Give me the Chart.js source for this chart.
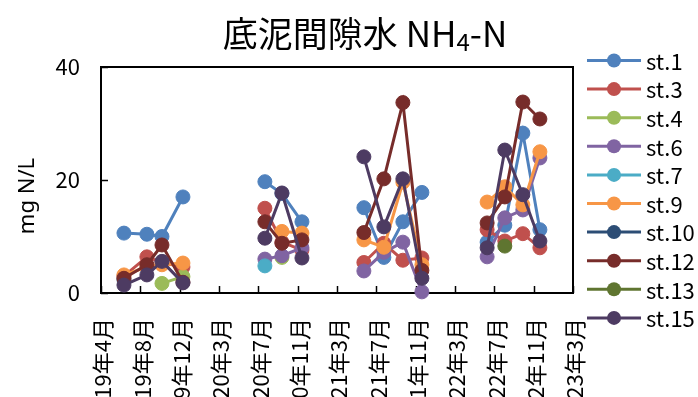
<!DOCTYPE html>
<html>
<head>
<meta charset="utf-8">
<script src="https://cdn.jsdelivr.net/npm/chart.js@4/dist/chart.umd.min.js"></script>
<style>
  html, body { margin: 0; padding: 0; background: #ffffff; }
  #wrap { width: 698px; height: 397px; }
</style>
</head>
<body>
<div id="wrap"><canvas id="chart" width="698" height="397"></canvas></div>
<script>
// ---- Text ----
const titleMain = '底泥間隙水 NH';
const titleSub = '4';
const titleTail = '-N';
const yAxisTitle = 'mg N/L';

// ---- Time axis: day 0 is axisStart, a tick every 120 days ----
const axisStart = '2019-04-05';
const tickStepDays = 120;
const tickLabels = ['19年4月', '19年8月', '19年12月', '20年3月', '20年7月', '20年11月',
                    '21年3月', '21年7月', '21年11月', '22年3月', '22年7月', '22年11月', '23年3月'];

// ---- Survey dates ----
const sampleDates = [
  '2019-06-14', '2019-08-23', '2019-10-08', '2019-12-11',
  '2020-08-17', '2020-10-08', '2020-12-08',
  '2021-06-15', '2021-08-15', '2021-10-12', '2021-12-09',
  '2022-06-26', '2022-08-19', '2022-10-13', '2022-12-04'
];

// ---- NH4-N (mg N/L) per station, one value per survey date ----
const stations = ['st.1', 'st.3', 'st.4', 'st.6', 'st.7', 'st.9', 'st.10', 'st.12', 'st.13', 'st.15'];
const st1  = [10.6, 10.4, 10.0, 17.0,  19.7, 17.6, 12.6,  15.1, 6.3, 12.6, 17.8,  9.0, 12.0, 28.3, 11.2];
const st3  = [3.0, 6.4, 5.4, 4.6,  15.0, 9.0, 7.6,  5.4, 8.8, 5.8, 6.2,  11.2, 9.2, 10.5, 8.0];
const st4  = [null, null, 1.7, 2.9,  null, 6.3, null,  null, null, null, null,  null, null, null, null];
const st6  = [null, null, null, null,  6.0, 6.6, 8.0,  3.9, 7.2, 9.0, 0.2,  6.4, 13.3, 14.7, 23.9];
const st7  = [null, null, null, null,  4.8, null, null,  null, null, null, null,  null, null, null, null];
const st9  = [3.2, 4.6, 5.0, 5.3,  null, 10.9, 10.6,  9.4, 8.1, 19.6, 5.0,  16.1, 18.8, 15.6, 25.0];
const st10 = [2.4, null, null, null,  null, null, null,  null, null, null, null,  null, null, null, null];
const st12 = [2.6, 5.0, 8.5, 1.9,  12.6, 8.8, 9.4,  10.7, 20.2, 33.7, 4.0,  12.4, 17.0, 33.8, 30.8];
const st13 = [null, null, null, null,  null, null, null,  null, null, null, null,  null, 8.3, null, null];
const st15 = [1.4, 3.2, 5.6, 1.8,  9.7, 17.7, 6.2,  24.1, 11.7, 20.2, 2.6,  8.0, 25.3, 17.4, 9.2];
const seriesValues = [st1, st3, st4, st6, st7, st9, st10, st12, st13, st15];

const seriesColors = ['#4F81BD', '#C0504D', '#9BBB59', '#8064A2', '#4BACC6',
                      '#F79646', '#2C4D75', '#772C2A', '#5F7530', '#4D3B62'];

// ---- Helpers ----
const DAY = 86400000;
function dayNumber(iso) {
  const [y, m, d] = iso.split('-').map(Number);
  const [y0, m0, d0] = axisStart.split('-').map(Number);
  return Math.round((Date.UTC(y, m - 1, d) - Date.UTC(y0, m0 - 1, d0)) / DAY);
}
const sampleDays = sampleDates.map(dayNumber);
const axisMaxDays = tickStepDays * (tickLabels.length - 1);

const FONT_JP = '"Noto Sans CJK JP", "Noto Sans", sans-serif';

const datasets = stations.map((name, i) => {
  const pts = [];
  seriesValues[i].forEach((v, k) => { if (v !== null) pts.push({ x: sampleDays[k], y: v }); });
  return {
    label: name,
    data: pts,
    borderColor: seriesColors[i],
    backgroundColor: seriesColors[i],
    pointBackgroundColor: seriesColors[i],
    pointBorderColor: seriesColors[i],
    borderWidth: 3,
    pointRadius: 7,
    pointHoverRadius: 7,
    pointBorderWidth: 1,
    tension: 0,
    spanGaps: 100,          // break the line between survey seasons
    clip: false,
    order: stations.length - i   // later stations drawn on top
  };
});

// Plot-area frame and inward tick marks
const framePlugin = {
  id: 'frame',
  beforeDatasetsDraw(chart) {
    const { ctx, chartArea: a, scales } = chart;
    ctx.save();
    ctx.strokeStyle = '#000';
    ctx.lineWidth = 2;
    ctx.strokeRect(a.left, a.top, a.right - a.left, a.bottom - a.top);
    ctx.lineWidth = 1.5;
    ctx.beginPath();
    scales.x.ticks.forEach(t => {
      const x = Math.round(scales.x.getPixelForValue(t.value)) + 0.5;
      ctx.moveTo(x, a.bottom);
      ctx.lineTo(x, a.bottom - 7);
    });
    scales.y.ticks.forEach(t => {
      const y = Math.round(scales.y.getPixelForValue(t.value)) + 0.5;
      ctx.moveTo(a.left, y);
      ctx.lineTo(a.left + 7, y);
    });
    ctx.stroke();
    ctx.restore();
  }
};

// Title, y-axis title and the line+marker legend on the right
const annotatePlugin = {
  id: 'annotate',
  afterDraw(chart) {
    const { ctx } = chart;
    ctx.save();
    ctx.fillStyle = '#000';

    // title with subscript
    const mainFont = '35px ' + FONT_JP;
    const subFont = '24px ' + FONT_JP;
    ctx.font = mainFont;
    const w1 = ctx.measureText(titleMain).width;
    const w3 = ctx.measureText(titleTail).width;
    ctx.font = subFont;
    const w2 = ctx.measureText(titleSub).width;
    let x = 365 - (w1 + w2 + w3) / 2;
    const base = 47;
    ctx.textBaseline = 'alphabetic';
    ctx.textAlign = 'left';
    ctx.font = mainFont;
    ctx.fillText(titleMain, x, base);
    x += w1;
    ctx.font = subFont;
    ctx.fillText(titleSub, x, base + 4);
    x += w2;
    ctx.font = mainFont;
    ctx.fillText(titleTail, x, base);

    // y-axis title
    ctx.save();
    ctx.translate(28, 196);
    ctx.rotate(-Math.PI / 2);
    ctx.font = '22px "Noto Sans", sans-serif';
    ctx.textAlign = 'center';
    ctx.textBaseline = 'middle';
    ctx.fillText(yAxisTitle, 0, 0);
    ctx.restore();

    // legend
    const top = 60.5, step = 28.6;
    chart.data.datasets.forEach((ds, i) => {
      const y = top + i * step;
      ctx.strokeStyle = ds.borderColor;
      ctx.lineWidth = 3;
      ctx.beginPath();
      ctx.moveTo(587, y);
      ctx.lineTo(641, y);
      ctx.stroke();
      ctx.fillStyle = ds.backgroundColor;
      ctx.beginPath();
      ctx.arc(614, y, 7, 0, Math.PI * 2);
      ctx.fill();
      ctx.fillStyle = '#000';
      ctx.font = '22px ' + FONT_JP;
      ctx.textAlign = 'left';
      ctx.textBaseline = 'middle';
      ctx.fillText(ds.label, 646, y + 1);
    });
    ctx.restore();
  }
};

function draw() {
  new Chart(document.getElementById('chart'), {
    type: 'line',
    data: { datasets },
    options: {
      responsive: false,
      animation: false,
      devicePixelRatio: 1,
      layout: { padding: { top: 67, right: 125, left: 0, bottom: 0 } },
      plugins: { legend: { display: false }, title: { display: false }, tooltip: { enabled: false } },
      scales: {
        x: {
          type: 'linear',
          min: 0,
          max: axisMaxDays,
          grid: { display: false, drawTicks: false },
          border: { display: false },
          ticks: {
            stepSize: tickStepDays,
            autoSkip: false,
            minRotation: 90,
            maxRotation: 90,
            padding: 25,
            labelOffset: 2,
            color: '#000',
            font: { family: FONT_JP, size: 22 },
            callback: v => tickLabels[Math.round(v / tickStepDays)] ?? ''
          },
          afterFit(scale) { scale.height = 104; }
        },
        y: {
          min: 0,
          max: 40,
          grid: { display: false, drawTicks: false },
          border: { display: false },
          ticks: {
            stepSize: 20,
            padding: 21,
            color: '#000',
            font: { family: FONT_JP, size: 22 }
          },
          afterFit(scale) { scale.width = 101; }
        }
      }
    },
    plugins: [framePlugin, annotatePlugin]
  });
}

Promise.all([
  document.fonts.load('22px "Noto Sans CJK JP"', '底泥間隙水年月'),
  document.fonts.load('22px "Noto Sans"', 'mg N/L')
]).then(draw, draw);
</script>
</body>
</html>
